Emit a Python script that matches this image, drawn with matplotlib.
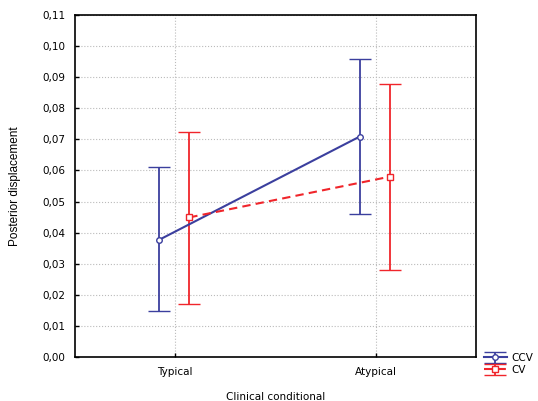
import matplotlib
matplotlib.use("Agg")
import matplotlib.pyplot as plt
import numpy as np

categories = ["Typical", "Atypical"]
ccv_mean = [0.0377, 0.0709]
ccv_low = [0.0147, 0.0460]
ccv_high = [0.0610, 0.0958]
cv_mean = [0.0449, 0.0580]
cv_low = [0.0170, 0.0280]
cv_high = [0.0725, 0.0877]
yticks = [0.00, 0.01, 0.02, 0.03, 0.04, 0.05, 0.06, 0.07, 0.08, 0.09, 0.10, 0.11]

plt.rcParams['font.family'] = ['DejaVu Sans']

fig = plt.figure(figsize=(5.38, 4.01), dpi=100)
ax = fig.add_axes([75/538, 1-357/401, 401/538, 342/401])

x = np.arange(len(categories))
blue = "#3b3f9e"
red = "#f0252b"

def draw(offset, mean, low, high, color, ls, marker, label):
    xs = x + offset
    m = np.array(mean)
    yerr = [m - np.array(low), np.array(high) - m]
    ax.errorbar(xs, m, yerr=yerr, color=color, ls=ls, lw=1.5, marker=marker,
                mfc="white", mec=color, ms=4, mew=1.0, capsize=7.8, capthick=1.5,
                elinewidth=1.3, label=label, zorder=3)

draw(-0.08, ccv_mean, ccv_low, ccv_high, blue, "-", "o", "CCV")
draw(0.07, cv_mean, cv_low, cv_high, red, (0, (4, 2.5)), "s", "CV")

tickfont = dict(family="DejaVu Sans", size=7.5)
ax.set_xlim(-0.5, 1.5)
ax.set_ylim(0, 0.11)
ax.set_yticks(yticks)
ax.set_yticklabels([f"{v:.2f}".replace(".", ",") for v in yticks], fontdict=tickfont)
ax.set_xticks(x)
ax.set_xticklabels(categories, fontdict=tickfont)
ax.tick_params(direction="in", length=3, width=1, pad=7)
ax.grid(True, color="#bbbbbb", ls=":", lw=0.8)
ax.set_axisbelow(True)
for s in ax.spines.values():
    s.set_linewidth(1.2)
    s.set_color("black")

ax.set_ylabel("Posterior displacement", fontsize=8.5, family="Liberation Sans", labelpad=15)
ax.set_xlabel("Clinical conditional", fontsize=7.5, family="DejaVu Sans", labelpad=11)

leg = ax.legend(loc="upper left", bbox_to_anchor=(484/538, 1-353/401), bbox_transform=fig.transFigure,
                frameon=False, prop=dict(family="DejaVu Sans", size=7.5), handlelength=2.2,
                handletextpad=0.4, labelspacing=0.2, borderaxespad=0, borderpad=0)

fig.savefig("out.png", dpi=100)
